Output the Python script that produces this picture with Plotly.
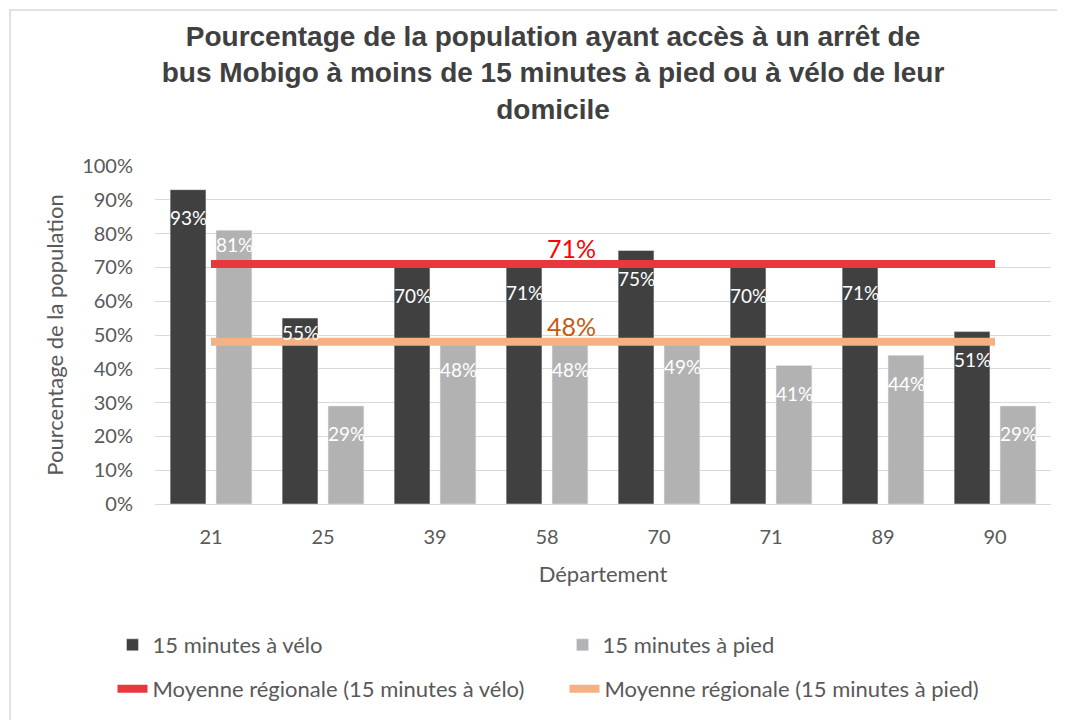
import plotly.graph_objects as go

departements = ["21", "25", "39", "58", "70", "71", "89", "90"]
velo = [0.93, 0.55, 0.70, 0.71, 0.75, 0.70, 0.71, 0.51]
pied = [0.81, 0.29, 0.48, 0.48, 0.49, 0.41, 0.44, 0.29]
moyenne_velo = 0.71
moyenne_pied = 0.48
label_at = "58"

title = ("Pourcentage de la population ayant accès à un arrêt de<br>"
         "bus Mobigo à moins de 15 minutes à pied ou à vélo de leur<br>"
         "domicile")

FONT = "Lato, 'Open Sans', sans-serif"
GREY_TXT = "#595959"
W, H = 1065, 720
PAGE = 8  # body margin of the html page shifts the figure by 8px
PLOT_H = 338  # plot height in px, used to keep bar labels clear of the lines


def pct(value):
    return f"{round(value * 100)}%"


def avg_label(value):
    return [pct(value) if d == label_at else "" for d in departements]


def cx(px):
    return (px - PAGE) / W


def cy(px):
    return 1 - (px - PAGE) / H


fig = go.Figure()
fig.add_trace(go.Bar(
    x=departements, y=velo, name="15 minutes à vélo", marker_color="#404040",
    legend="legend", showlegend=True,
))
fig.add_trace(go.Bar(
    x=departements, y=pied, name="15 minutes à pied", marker_color="#b2b2b2",
    legend="legend2", showlegend=True,
))
fig.add_trace(go.Scatter(
    x=departements, y=[moyenne_velo] * len(departements), mode="lines+text",
    name="Moyenne régionale (15 minutes à vélo)",
    line=dict(color="#e8383d", width=8),
    text=avg_label(moyenne_velo), textposition="top right",
    textfont=dict(color="#ff0000", size=25, family=FONT),
    legend="legend3", showlegend=True, cliponaxis=False,
))
fig.add_trace(go.Scatter(
    x=departements, y=[moyenne_pied] * len(departements), mode="lines+text",
    name="Moyenne régionale (15 minutes à pied)",
    line=dict(color="#f4b183", width=8),
    text=avg_label(moyenne_pied), textposition="top right",
    textfont=dict(color="#c55a11", size=25, family=FONT),
    legend="legend4", showlegend=True, cliponaxis=False,
))

# data labels inside the top of each bar; pulled up when they would sit on
# an average line (annotations on a category axis take the index as x)
for series, shift in ((velo, -23), (pied, 23)):
    for idx, val in enumerate(series):
        drop = 28
        centre = val - drop / PLOT_H
        if min(abs(centre - moyenne_velo), abs(centre - moyenne_pied)) < 0.035:
            drop = 14
        fig.add_annotation(x=idx, y=val, text=pct(val), showarrow=False,
                           xshift=shift, yshift=-drop,
                           font=dict(color="white", size=19, family=FONT))


def legend_at(text_x, row_y):
    # plotly puts the label about 40px right of the legend origin
    return dict(visible=True, orientation="h", xref="container", yref="container",
                x=cx(text_x - 40.5), y=cy(row_y), xanchor="left", yanchor="middle",
                font=dict(size=22, color=GREY_TXT, family=FONT),
                bgcolor="rgba(0,0,0,0)")


# plot area in page pixels: x 155..1051, y 166..504
fig.update_layout(
    width=W, height=H, showlegend=True,
    margin=dict(l=155 - PAGE, r=W - (1051 - PAGE), t=166 - PAGE, b=H - (504 - PAGE)),
    paper_bgcolor="white", plot_bgcolor="white",
    font=dict(family=FONT, color=GREY_TXT, size=20),
    title=dict(text=title, xref="container", x=cx(553), xanchor="center",
               yref="container", y=cy(46), yanchor="top",
               font=dict(family="'Liberation Sans', Arial, sans-serif", size=28,
                         color="#404040", weight="bold")),
    barmode="group", bargap=0.18, bargroupgap=0.22,
    legend=legend_at(153, 645),
    legend2=legend_at(603, 645),
    legend3=legend_at(153, 689),
    legend4=legend_at(605, 689),
    shapes=[dict(type="rect", xref="paper", yref="paper",
                 x0=(10 - 155) / 896, x1=(1062 - 155) / 896,
                 y0=(504 - 740) / PLOT_H, y1=(504 - 10) / PLOT_H,
                 line=dict(color="#d9d9d9", width=1.5), layer="below")],
)
fig.update_yaxes(range=[0, 1], dtick=0.1, tickformat=".0%",
                 gridcolor="#d9d9d9", gridwidth=1, zeroline=False,
                 ticklabelstandoff=21,
                 title=dict(text="Pourcentage de la population", standoff=12,
                            font=dict(size=22, color=GREY_TXT)))
fig.update_xaxes(type="category", showgrid=False, showline=True,
                 linecolor="#d9d9d9", linewidth=1, ticks="",
                 ticklabelstandoff=15,
                 title=dict(text="Département", standoff=19,
                            font=dict(size=22, color=GREY_TXT)))

fig.write_html("out.html")
